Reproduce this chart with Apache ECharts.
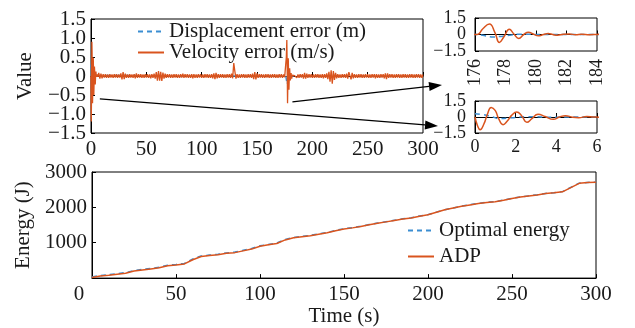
<!DOCTYPE html>
<html>
<head>
<meta charset="utf-8">
<script src="https://cdn.jsdelivr.net/npm/echarts@6/dist/echarts.min.js"></script>
<style>
  html, body { margin: 0; padding: 0; background: #fff; }
  #chart { width: 635px; height: 328px; }
</style>
</head>
<body>
<div id="chart"></div>
<script>
// velocity error, damped burst at start (0..6 s)
const velStartT = [0, 0.12, 0.25, 0.45, 0.6, 0.8, 1.0, 1.15, 1.38, 1.6, 1.8, 2.05, 2.3, 2.55, 2.8, 3.1, 3.45, 3.85, 4.15, 4.45, 4.8, 5.1, 5.5, 5.8, 6.2];
const velStartV = [0, -0.8, -1.2, -0.6, 0.2, 0.9, 0.6, -0.1, -0.72, -0.35, 0.15, 0.48, 0.1, -0.5, -0.15, 0.25, 0.05, -0.22, 0, 0.12, -0.02, -0.06, 0.04, 0.01, -0.02];
// velocity error noise, one sample per second from 7 s to 175 s
const velNoiseAStart = 7;
const velNoiseA = [
  0.08, -0.07, 0.06, -0.06, 0.05, -0.04, 0.05, -0.05, 0.04, -0.05,
  0.05, -0.04, 0.04, -0.05, 0.05, -0.04, 0.05, -0.05, 0.04, -0.04,
  0.07, -0.09, 0.1, -0.08, 0.06, -0.05, 0.04, -0.05, 0.05, -0.04,
  0.04, -0.05, 0.05, -0.06, 0.07, -0.05, 0.05, -0.04, 0.05, -0.05,
  0.04, -0.05, 0.05, -0.04, 0.05, -0.05, 0.04, -0.06, 0.05, -0.05,
  0.06, -0.07, 0.1, -0.12, 0.13, -0.12, 0.11, -0.13, 0.09, -0.07,
  0.06, -0.05, 0.05, -0.04, 0.05, -0.05, 0.04, -0.05, 0.05, -0.04,
  0.05, -0.05, 0.04, -0.05, 0.05, -0.04, 0.06, -0.05, 0.05, -0.04,
  0.05, -0.05, 0.04, -0.05, 0.05, -0.06, 0.05, -0.05, 0.04, -0.05,
  0.05, -0.04, 0.05, -0.05, 0.04, -0.05, 0.05, -0.04, 0.05, -0.05,
  0.04, -0.05, 0.05, -0.06, 0.07, -0.08, 0.08, -0.06, 0.05, -0.05,
  0.05, -0.04, 0.05, -0.05, 0.04, -0.05, 0.05, -0.04, 0.05, -0.05,
  0.06, -0.06, 0.34, 0.12, -0.07, 0.05, -0.05, 0.04, -0.05, 0.05,
  -0.04, 0.05, -0.05, 0.04, -0.05, 0.05, -0.04, 0.05, -0.05, 0.06,
  -0.08, 0.1, -0.09, 0.07, -0.05, 0.05, -0.04, 0.05, -0.05, 0.04,
  -0.05, 0.05, -0.04, 0.05, -0.05, 0.04, -0.05, 0.05, -0.04, 0.05,
  -0.05, 0.04, -0.05, 0.05, -0.04, 0.05, -0.05, 0.04, -0.03
];
// velocity error, burst at 176 s
const velMidT = [176, 176.2, 176.5, 176.95, 177.3, 177.6, 177.9, 178.25, 178.55, 178.87, 179.2, 179.5, 179.85, 180.15, 180.5, 180.8, 181.1, 181.4, 181.8, 182.2, 182.6, 183, 183.5, 184];
const velMidV = [0, 0.02, 0.5, 0.95, 0.2, -0.72, -0.2, 0.47, 0.05, -0.36, 0, 0.2, 0.02, -0.12, 0, 0.08, 0, -0.07, 0.02, 0.05, -0.03, 0.02, -0.02, 0.01];
// velocity error noise, one sample per second from 185 s to 300 s
const velNoiseBStart = 185;
const velNoiseB = [
  0.05, -0.05, 0.04, -0.05, 0.05, -0.04, 0.05, -0.07, 0.08, -0.07,
  0.06, -0.05, 0.05, -0.04, 0.05, -0.05, 0.04, -0.05, 0.05, -0.04,
  0.05, -0.05, 0.04, -0.05, 0.05, -0.06, 0.05, -0.05, 0.07, -0.08,
  0.11, -0.15, 0.15, -0.2, 0.13, -0.1, 0.08, -0.06, 0.05, -0.05,
  0.04, -0.05, 0.05, -0.04, 0.05, -0.05, 0.06, -0.07, 0.1, 0.15,
  -0.09, 0.08, -0.06, 0.05, -0.05, 0.04, -0.05, 0.05, -0.04, 0.05,
  -0.05, 0.04, -0.05, 0.05, -0.04, 0.05, -0.05, 0.04, -0.05, 0.05,
  -0.04, 0.05, -0.06, 0.05, -0.05, 0.04, -0.05, 0.05, -0.04, 0.05,
  -0.06, 0.07, -0.08, 0.07, -0.05, 0.05, -0.04, 0.05, -0.05, 0.04,
  -0.05, 0.05, -0.04, 0.05, -0.05, 0.04, -0.05, 0.05, -0.04, 0.05,
  -0.05, 0.04, -0.05, 0.05, -0.04, 0.05, -0.05, 0.04, -0.05, 0.05,
  -0.04, 0.05, -0.05, 0.04, -0.05, 0.04
];
// displacement error
const dispT = [0, 0.4, 0.8, 1.2, 1.6, 2.0, 2.5, 3.0, 3.5, 4.0, 4.5, 5.0, 6.0, 40, 80, 120, 176, 176.6, 177.2, 177.8, 178.4, 179, 179.6, 180.2, 181, 182, 184, 220, 260, 300];
const dispV = [0.3, 0.22, 0.05, -0.15, -0.12, -0.04, 0.02, 0.03, -0.02, -0.03, 0.01, 0.01, 0, 0.01, -0.01, 0, 0, -0.1, -0.22, -0.15, -0.04, 0.03, 0.02, -0.01, 0, 0.01, 0, 0.01, -0.01, 0];

// energy, every 5 s
const energyT = [0, 5, 10, 15, 20, 25, 30, 35, 40, 45, 50, 55, 60, 65, 70, 75, 80, 85, 90, 95, 100, 105, 110, 115, 120, 125, 130, 135, 140, 145, 150, 155, 160, 165, 170, 175, 180, 185, 190, 195, 200, 205, 210, 215, 220, 225, 230, 235, 240, 245, 250, 255, 260, 265, 270, 275, 280, 285, 290, 295, 300];
const adpEnergy = [20, 60, 80, 110, 140, 200, 230, 260, 290, 350, 370, 400, 520, 610, 640, 660, 700, 720, 770, 820, 900, 940, 980, 1080, 1140, 1170, 1200, 1240, 1280, 1340, 1390, 1420, 1460, 1510, 1550, 1590, 1630, 1670, 1700, 1750, 1790, 1860, 1930, 1980, 2030, 2070, 2110, 2140, 2160, 2200, 2250, 2290, 2320, 2350, 2390, 2410, 2440, 2560, 2680, 2700, 2710];
const optEnergy = [30, 75, 95, 125, 155, 215, 245, 275, 305, 365, 385, 415, 540, 625, 650, 675, 710, 735, 785, 835, 915, 950, 990, 1095, 1150, 1180, 1210, 1250, 1290, 1350, 1395, 1425, 1465, 1515, 1555, 1595, 1635, 1675, 1705, 1755, 1795, 1865, 1935, 1985, 2035, 2075, 2115, 2145, 2165, 2205, 2255, 2295, 2325, 2355, 2395, 2415, 2445, 2565, 2685, 2705, 2715];

// tick labels of the error axes, split in two sets so none gets dropped
const valueRange = [-1.5, 1.5];
const mainTicksB = [-1, 0, 1];
const insetTicksB = [0];

const RED = "#d9541e";
const BLUE = "#3b8ed2";
const FONT = "Liberation Serif";
const TXT = "#1a1a1a";
const FS = 21;   // main text size
const FS_IN = 18; // inset text size

let velData = [];
velStartT.forEach((t, i) => velData.push([t, velStartV[i]]));
velNoiseA.forEach((v, i) => velData.push([velNoiseAStart + i, v]));
velMidT.forEach((t, i) => velData.push([t, velMidV[i]]));
velNoiseB.forEach((v, i) => velData.push([velNoiseBStart + i, v]));
let dispData = dispT.map((t, i) => [t, dispV[i]]);
let adpData = energyT.map((t, i) => [t, adpEnergy[i]]);
let optData = energyT.map((t, i) => [t, optEnergy[i]]);

function fmtVal(v) {
  if (Math.abs(v) < 1e-9) return "0";
  return v.toFixed(1).replace("-", "\u2212");
}

function label(size, extra) {
  return Object.assign({
    fontFamily: FONT, fontSize: size, color: TXT, margin: 6,
    showMinLabel: true, showMaxLabel: true
  }, extra || {});
}

function axisBase(extra) {
  let a = {
    type: "value",
    axisLine: { show: true, lineStyle: { color: "#000", width: 1 } },
    axisTick: { show: true, inside: true, length: 4, lineStyle: { color: "#000" } },
    splitLine: { show: false },
    axisLabel: label(FS)
  };
  return Object.assign(a, extra);
}

// extra y axis on a grid carrying only the in-between labels
function extraY(grid, vals, size, margin) {
  return {
    type: "value", gridIndex: grid, position: "left", min: valueRange[0], max: valueRange[1],
    axisLine: { show: false },
    axisTick: { show: true, inside: true, length: 4, customValues: vals, lineStyle: { color: "#000" } },
    splitLine: { show: false },
    axisLabel: label(size, { margin: margin, customValues: vals, formatter: fmtVal })
  };
}

let chart = echarts.init(document.getElementById("chart"));

let option = {
  animation: false,
  backgroundColor: "#fff",
  textStyle: { fontFamily: FONT },
  grid: [
    { left: 91, top: 19, width: 332, height: 114, show: true, borderColor: "#000", borderWidth: 1 },
    { left: 475, top: 18, width: 122, height: 33, show: true, borderColor: "#000", borderWidth: 1 },
    { left: 475, top: 101, width: 122, height: 32, show: true, borderColor: "#000", borderWidth: 1 },
    { left: 92, top: 172, width: 504, height: 108, show: true, borderColor: "#000", borderWidth: 1 }
  ],
  xAxis: [
    axisBase({ gridIndex: 0, min: 0, max: 300, interval: 50 }),
    axisBase({ gridIndex: 1, min: 176, max: 184, interval: 2, axisLabel: label(FS_IN, { margin: 8, rotate: 90 }) }),
    axisBase({ gridIndex: 2, min: 0, max: 6, interval: 2, axisLabel: label(FS_IN, { margin: 5 }) }),
    axisBase({
      gridIndex: 3, min: 0, max: 300, interval: 50,
      name: "Time (s)", nameLocation: "middle", nameGap: 25,
      nameTextStyle: { fontFamily: FONT, fontSize: FS, color: TXT },
      axisLabel: label(FS, {
        formatter: v => (v === 0 ? "{z|0}" : String(v)),
        rich: { z: { fontFamily: FONT, fontSize: FS, color: TXT, padding: [0, 26, 0, 0] } }
      })
    })
  ],
  yAxis: [
    axisBase({
      gridIndex: 0, position: "left", min: valueRange[0], max: valueRange[1], interval: 1,
      name: "Value", nameLocation: "middle", nameGap: 55,
      nameTextStyle: { fontFamily: FONT, fontSize: FS, color: TXT },
      axisLabel: label(FS, { margin: 5, formatter: fmtVal })
    }),
    axisBase({ gridIndex: 1, position: "left", min: valueRange[0], max: valueRange[1], interval: 3, axisLabel: label(FS_IN, { margin: 9, formatter: fmtVal }) }),
    axisBase({ gridIndex: 2, position: "left", min: valueRange[0], max: valueRange[1], interval: 3, axisLabel: label(FS_IN, { margin: 9, formatter: fmtVal }) }),
    axisBase({
      gridIndex: 3, position: "left", min: 0, max: 3000, interval: 1000,
      name: "Energy (J)", nameLocation: "middle", nameGap: 56,
      nameTextStyle: { fontFamily: FONT, fontSize: FS, color: TXT },
      axisLabel: label(FS, { margin: 5, formatter: v => (v === 0 ? "" : String(v)) })
    }),
    extraY(0, mainTicksB, FS, 5),
    extraY(1, insetTicksB, FS_IN, 9),
    extraY(2, insetTicksB, FS_IN, 9)
  ],
  legend: [
    {
      data: ["Displacement error (m)", "Velocity error (m/s)"],
      orient: "vertical", left: 132, top: 16, itemWidth: 26, itemHeight: 14, itemGap: 0,
      itemStyle: { opacity: 0 },
      textStyle: { fontFamily: FONT, fontSize: FS, color: TXT, lineHeight: 20 }
    },
    {
      data: ["Optimal energy", "ADP"],
      orient: "vertical", left: 402, top: 215, itemWidth: 26, itemHeight: 14, itemGap: 5,
      itemStyle: { opacity: 0 },
      textStyle: { fontFamily: FONT, fontSize: FS, color: TXT, lineHeight: 20 }
    }
  ],
  series: [
    {
      name: "Displacement error (m)", type: "line", xAxisIndex: 0, yAxisIndex: 0,
      data: dispData, symbol: "none", lineStyle: { color: BLUE, width: 1.5, type: [5, 4] }, itemStyle: { color: BLUE }
    },
    {
      name: "Velocity error (m/s)", type: "line", xAxisIndex: 0, yAxisIndex: 0,
      data: velData, symbol: "none", lineStyle: { color: RED, width: 1.3 }, itemStyle: { color: RED }
    },
    {
      name: "Displacement error (m)", type: "line", xAxisIndex: 1, yAxisIndex: 1, smooth: true,
      data: dispData, symbol: "none", lineStyle: { color: BLUE, width: 1.5, type: [5, 4] }, itemStyle: { color: BLUE }
    },
    {
      name: "Velocity error (m/s)", type: "line", xAxisIndex: 1, yAxisIndex: 1, smooth: true,
      data: velData, symbol: "none", lineStyle: { color: RED, width: 1.5 }, itemStyle: { color: RED }
    },
    {
      name: "Displacement error (m)", type: "line", xAxisIndex: 2, yAxisIndex: 2, smooth: true,
      data: dispData, symbol: "none", lineStyle: { color: BLUE, width: 1.5, type: [5, 4] }, itemStyle: { color: BLUE }
    },
    {
      name: "Velocity error (m/s)", type: "line", xAxisIndex: 2, yAxisIndex: 2, smooth: true,
      data: velData, symbol: "none", lineStyle: { color: RED, width: 1.5 }, itemStyle: { color: RED }
    },
    {
      name: "Optimal energy", type: "line", xAxisIndex: 3, yAxisIndex: 3,
      data: optData, symbol: "none", lineStyle: { color: BLUE, width: 1.5, type: [5, 4] }, itemStyle: { color: BLUE }
    },
    {
      name: "ADP", type: "line", xAxisIndex: 3, yAxisIndex: 3,
      data: adpData, symbol: "none", lineStyle: { color: RED, width: 1.5 }, itemStyle: { color: RED }
    }
  ]
};

chart.setOption(option);

// arrows from the bursts in the main plot to the zoomed insets
function arrow(p1, p2) {
  let ang = Math.atan2(p2[1] - p1[1], p2[0] - p1[0]);
  let len = 13, half = 4.5;
  let bx = p2[0] - len * Math.cos(ang), by = p2[1] - len * Math.sin(ang);
  let nx = -Math.sin(ang) * half, ny = Math.cos(ang) * half;
  return [
    { type: "line", silent: true, shape: { x1: p1[0], y1: p1[1], x2: bx, y2: by }, style: { stroke: "#000", lineWidth: 1.2 } },
    { type: "polygon", silent: true, shape: { points: [[p2[0], p2[1]], [bx + nx, by + ny], [bx - nx, by - ny]] }, style: { fill: "#000" } }
  ];
}

let s1 = chart.convertToPixel({ xAxisIndex: 0, yAxisIndex: 0 }, [8, -0.6]);
let s2 = chart.convertToPixel({ xAxisIndex: 0, yAxisIndex: 0 }, [182, -0.68]);
let c1 = chart.convertToPixel({ xAxisIndex: 1, yAxisIndex: 1 }, [176, -1.5]);
let c2 = chart.convertToPixel({ xAxisIndex: 2, yAxisIndex: 2 }, [0, -1.5]);

chart.setOption({
  graphic: [].concat(
    arrow(s1, [c2[0] - 37, c2[1] - 7]),
    arrow(s2, [c1[0] - 33, c1[1] + 34])
  )
});
</script>
</body>
</html>
